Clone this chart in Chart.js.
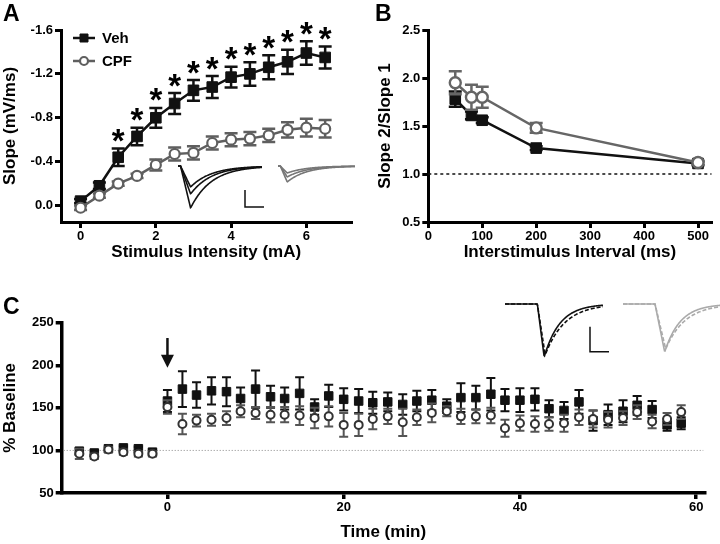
<!DOCTYPE html>
<html>
<head>
<meta charset="utf-8">
<script src="https://cdn.jsdelivr.net/npm/chart.js@4.4.0/dist/chart.umd.min.js"></script>
<style>
  html, body { margin: 0; padding: 0; background: #fff; }
  #wrap { position: relative; width: 720px; height: 544px; }
  canvas { position: absolute; }
  #chartA { left: 0; top: 0; }
  #chartB { left: 360px; top: 0; }
  #chartC { left: 0; top: 280px; }
</style>
</head>
<body>
<div id="wrap">
  <canvas id="chartA" width="360" height="280"></canvas>
  <canvas id="chartB" width="360" height="280"></canvas>
  <canvas id="chartC" width="720" height="264"></canvas>
</div>
<script>
// ---- Panel A: input/output ----
const intensity = [0, 0.5, 1, 1.5, 2, 2.5, 3, 3.5, 4, 4.5, 5, 5.5, 6, 6.5];
const slopeVeh = [-0.04, -0.18, -0.44, -0.63, -0.80, -0.93, -1.05, -1.08, -1.17, -1.20, -1.26, -1.31, -1.39, -1.35];
const slopeVehSem = [0.02, 0.03, 0.08, 0.08, 0.09, 0.095, 0.095, 0.10, 0.095, 0.107, 0.11, 0.11, 0.107, 0.10];
const slopeCpf = [0.02, -0.09, -0.20, -0.27, -0.37, -0.47, -0.48, -0.57, -0.60, -0.61, -0.64, -0.69, -0.71, -0.70];
const slopeCpfSem = [0.02, 0.02, 0.02, 0.02, 0.05, 0.06, 0.06, 0.06, 0.06, 0.06, 0.06, 0.07, 0.08, 0.08];
const sigMarks = ['', '', '*', '*', '*', '*', '*', '*', '*', '*', '*', '*', '*', '*'];
const ticksAx = [0, 2, 4, 6];
const ticksAy = [-1.6, -1.2, -0.8, -0.4, 0];

// ---- Panel B: paired pulse ----
const intervalMs = [50, 80, 100, 200, 500];
const ppfVeh = [1.78, 1.61, 1.56, 1.27, 1.11];
const ppfVehSem = [0.08, 0.04, 0.03, 0.02, 0.02];
const ppfCpf = [1.95, 1.80, 1.80, 1.48, 1.12];
const ppfCpfSem = [0.12, 0.13, 0.11, 0.05, 0.02];
const ticksBx = [0, 100, 200, 300, 400, 500];
const ticksBy = [0.5, 1.0, 1.5, 2.0, 2.5];

// ---- Panel C: LTP time course ----
const timeMin = [-10, -8.3, -6.7, -5, -3.3, -1.7,
  0, 1.7, 3.3, 5, 6.7, 8.3, 10, 11.7, 13.3, 15, 16.7, 18.3,
  20, 21.7, 23.3, 25, 26.7, 28.3, 30, 31.7, 33.3, 35, 36.7, 38.3,
  40, 41.7, 43.3, 45, 46.7, 48.3, 50, 51.7, 53.3, 55, 56.7, 58.3];
const ltpVeh = [99, 97, 102, 103, 102, 98,
  158, 172, 165, 170, 169, 161, 172, 163, 161, 167, 151, 164,
  160, 158, 156, 157, 154, 158, 159, 152, 162, 162, 166, 159,
  159, 160, 149, 147, 157, 135, 142, 146, 153, 148, 130, 132];
const ltpVehSem = [4, 3, 2, 2, 2, 3,
  13, 21, 15, 16, 17, 13, 22, 13, 13, 19, 9, 13,
  13, 14, 13, 11, 12, 12, 12, 8, 17, 14, 19, 13,
  14, 13, 10, 10, 14, 12, 12, 13, 11, 10, 7, 7];
const ltpCpf = [96, 93, 101, 98, 96, 96,
  151, 131, 135, 136, 138, 146, 144, 142, 142, 141, 138, 140,
  130, 130, 137, 140, 133, 139, 144, 146, 140, 140, 141, 126,
  132, 131, 131, 132, 139, 137, 136, 138, 145, 134, 137, 145];
const ltpCpfSem = [6, 3, 3, 3, 3, 3,
  8, 12, 7, 7, 8, 7, 7, 9, 9, 11, 12, 12,
  14, 13, 12, 9, 16, 9, 11, 6, 9, 8, 9, 10,
  9, 9, 8, 10, 9, 10, 9, 8, 8, 8, 7, 8];
const ticksCx = [0, 20, 40, 60];
const ticksCy = [50, 100, 150, 200, 250];

const FONT = "'Liberation Sans', Arial, Helvetica, sans-serif";
Chart.defaults.font.family = FONT;
Chart.defaults.font.weight = 'bold';
Chart.defaults.color = '#000';
Chart.defaults.animation = false;
Chart.defaults.events = [];
Chart.defaults.plugins.legend.display = false;
Chart.defaults.plugins.tooltip.enabled = false;
Chart.defaults.elements.line.tension = 0;

const pts = (xs, ys) => xs.map((x, i) => ({ x: x, y: ys[i] }));

function axis(o) {
  return {
    type: 'linear',
    min: o.min, max: o.max, reverse: !!o.reverse,
    afterBuildTicks: s => { s.ticks = o.ticks.map(v => ({ value: v })); },
    afterFit: s => { if (s.isHorizontal()) s.height = o.size; else s.width = o.size; },
    ticks: { callback: o.fmt, padding: o.tickPad, font: { size: 13, weight: 'bold' }, color: '#000', maxRotation: 0, autoSkip: false },
    grid: { drawOnChartArea: false, drawTicks: true, tickLength: 6, lineWidth: o.lw, color: '#000' },
    border: { display: true, width: o.lw, color: '#000' },
    title: { display: true, text: o.title, font: { size: 17, weight: 'bold' }, color: '#000', padding: o.titlePad }
  };
}

// error bars drawn just before each dataset so markers sit on top
const errorBars = {
  id: 'errorBars',
  beforeDatasetDraw(chart, args) {
    const ds = chart.data.datasets[args.index];
    if (!ds.sem) return;
    const ys = chart.scales.y, ctx = chart.ctx;
    ctx.save();
    ctx.strokeStyle = ds.errColor;
    ctx.lineWidth = ds.errWidth;
    args.meta.data.forEach((p, i) => {
      const v = ds.data[i].y, e = ds.sem[i];
      const a = ys.getPixelForValue(v + e), b = ys.getPixelForValue(v - e);
      ctx.beginPath();
      ctx.moveTo(p.x, a); ctx.lineTo(p.x, b);
      ctx.moveTo(p.x - ds.cap, a); ctx.lineTo(p.x + ds.cap, a);
      ctx.moveTo(p.x - ds.cap, b); ctx.lineTo(p.x + ds.cap, b);
      ctx.stroke();
    });
    ctx.restore();
  }
};

function panelLetter(letter, x, y) {
  return {
    id: 'letter' + letter,
    afterDraw(chart) {
      const ctx = chart.ctx;
      ctx.save();
      ctx.font = 'bold 23px ' + FONT;
      ctx.fillStyle = '#000';
      ctx.textBaseline = 'top';
      ctx.fillText(letter, x, y);
      ctx.restore();
    }
  };
}

// schematic fEPSP trace for the insets
function drawTrace(ctx, x0, x1, yBase, depth, onsetF, peakF, tauF, color, dashed) {
  const w = x1 - x0, on = x0 + onsetF * w, pk = x0 + peakF * w;
  ctx.save();
  ctx.strokeStyle = color;
  ctx.lineWidth = 1.6;
  if (dashed) ctx.setLineDash([4, 2]);
  ctx.beginPath();
  for (let x = x0; x <= x1; x += 0.5) {
    let y = yBase;
    if (x > on && x <= pk) y = yBase + depth * (x - on) / (pk - on);
    else if (x > pk) y = yBase + depth * Math.exp(-(x - pk) / (tauF * w));
    if (x === x0) ctx.moveTo(x, y); else ctx.lineTo(x, y);
  }
  ctx.stroke();
  ctx.restore();
}

function scaleBar(ctx, x, yTop, yBot, xEnd) {
  ctx.save();
  ctx.strokeStyle = '#111';
  ctx.lineWidth = 1.5;
  ctx.beginPath();
  ctx.moveTo(x, yTop); ctx.lineTo(x, yBot); ctx.lineTo(xEnd, yBot);
  ctx.stroke();
  ctx.restore();
}

// ---------- Chart A ----------
const decorA = {
  id: 'decorA',
  afterDatasetsDraw(chart) {
    const ctx = chart.ctx, ys = chart.scales.y;
    const veh = chart.data.datasets[0], meta = chart.getDatasetMeta(0);
    ctx.save();
    ctx.font = 'bold 33px ' + FONT;
    ctx.fillStyle = '#000';
    ctx.textAlign = 'center';
    ctx.textBaseline = 'alphabetic';
    meta.data.forEach((p, i) => {
      if (!sigMarks[i]) return;
      const top = Math.min(ys.getPixelForValue(veh.data[i].y - veh.sem[i]), ys.getPixelForValue(veh.data[i].y + veh.sem[i]));
      ctx.fillText(sigMarks[i], p.x, top - 15 + 18.6);
    });
    ctx.restore();

    // legend
    const ca = chart.chartArea;
    chart.data.datasets.forEach((ds, i) => {
      const y = ca.top + 8 + i * 23, x0 = 73, x1 = 95, xm = (x0 + x1) / 2;
      ctx.save();
      ctx.strokeStyle = ds.borderColor;
      ctx.lineWidth = ds.borderWidth;
      ctx.beginPath(); ctx.moveTo(x0, y); ctx.lineTo(x1, y); ctx.stroke();
      ctx.fillStyle = ds.pointBackgroundColor;
      ctx.strokeStyle = ds.pointBorderColor;
      ctx.lineWidth = ds.pointBorderWidth;
      ctx.beginPath();
      if (ds.pointStyle === 'rect') {
        ctx.rect(xm - 4, y - 4, 8, 8);
      } else {
        ctx.arc(xm, y, 4, 0, Math.PI * 2);
      }
      ctx.fill(); ctx.stroke();
      ctx.font = 'bold 15px ' + FONT;
      ctx.fillStyle = '#000';
      ctx.textBaseline = 'middle';
      ctx.fillText(ds.label, 102, y + 1);
      ctx.restore();
    });

    // inset traces
    [42, 28, 21].forEach(d => drawTrace(ctx, 178, 262, 166, d, 0.03, 0.15, 0.25, '#111', false));
    [16, 11, 7].forEach(d => drawTrace(ctx, 278, 355, 166, d, 0.03, 0.12, 0.25, '#777', false));
    scaleBar(ctx, 245, 190, 207, 264);
  }
};

new Chart(document.getElementById('chartA'), {
  type: 'line',
  data: {
    datasets: [
      { label: 'Veh', data: pts(intensity, slopeVeh), sem: slopeVehSem, order: 1,
        borderColor: '#111', borderWidth: 2.5, pointStyle: 'rect', pointRadius: 7.5,
        pointBackgroundColor: '#111', pointBorderColor: '#111', pointBorderWidth: 1,
        errColor: '#111', errWidth: 2.5, cap: 6.5 },
      { label: 'CPF', data: pts(intensity, slopeCpf), sem: slopeCpfSem, order: 0,
        borderColor: '#5f5f5f', borderWidth: 2.5, pointStyle: 'circle', pointRadius: 5,
        pointBackgroundColor: '#fff', pointBorderColor: '#5f5f5f', pointBorderWidth: 2.2,
        errColor: '#5f5f5f', errWidth: 2.5, cap: 6.5 }
    ]
  },
  options: {
    responsive: false,
    layout: { padding: { left: 0, right: 7, top: 30, bottom: 0 } },
    scales: {
      x: axis({ min: -0.52, max: 7.2, ticks: ticksAx, size: 58, lw: 3, tickPad: 1,
        fmt: v => String(v), title: 'Stimulus Intensity (mA)', titlePad: { top: 0, bottom: 17 } }),
      y: axis({ min: -1.6, max: 0.15, reverse: true, ticks: ticksAy, size: 61, lw: 3, tickPad: 2,
        fmt: v => v.toFixed(1), title: 'Slope (mV/ms)', titlePad: { top: 0, bottom: 0 } })
    }
  },
  plugins: [errorBars, decorA, panelLetter('A', 3, 3)]
});

// ---------- Chart B ----------
const decorB = {
  id: 'decorB',
  beforeDatasetsDraw(chart) {
    const ctx = chart.ctx, ca = chart.chartArea, y = chart.scales.y.getPixelForValue(1.0);
    ctx.save();
    ctx.strokeStyle = '#111';
    ctx.lineWidth = 1.5;
    ctx.setLineDash([3, 3]);
    ctx.beginPath(); ctx.moveTo(ca.left, y); ctx.lineTo(ca.right, y); ctx.stroke();
    ctx.restore();
  }
};

new Chart(document.getElementById('chartB'), {
  type: 'line',
  data: {
    datasets: [
      { label: 'Veh', data: pts(intervalMs, ppfVeh), sem: ppfVehSem, order: 1,
        borderColor: '#111', borderWidth: 2.5, pointStyle: 'rect', pointRadius: 7.5,
        pointBackgroundColor: '#111', pointBorderColor: '#111', pointBorderWidth: 1,
        errColor: '#111', errWidth: 2.5, cap: 6.5 },
      { label: 'CPF', data: pts(intervalMs, ppfCpf), sem: ppfCpfSem, order: 0,
        borderColor: '#666', borderWidth: 2.5, pointStyle: 'circle', pointRadius: 5.5,
        pointBackgroundColor: '#fff', pointBorderColor: '#666', pointBorderWidth: 2.4,
        errColor: '#666', errWidth: 2.5, cap: 6.5 }
    ]
  },
  options: {
    responsive: false,
    layout: { padding: { left: 15, right: 4, top: 30, bottom: 0 } },
    scales: {
      x: axis({ min: 0, max: 525, ticks: ticksBx, size: 58, lw: 3, tickPad: 1,
        fmt: v => String(v), title: 'Interstimulus Interval (ms)', titlePad: { top: 0, bottom: 17 } }),
      y: axis({ min: 0.5, max: 2.5, ticks: ticksBy, size: 53.3, lw: 3, tickPad: 2,
        fmt: v => v.toFixed(1), title: 'Slope 2/Slope 1', titlePad: { top: 0, bottom: 0 } })
    }
  },
  plugins: [errorBars, decorB, panelLetter('B', 15, 3)]
});

// ---------- Chart C ----------
const decorC = {
  id: 'decorC',
  beforeDatasetsDraw(chart) {
    const ctx = chart.ctx, ca = chart.chartArea, xs = chart.scales.x, ys = chart.scales.y;
    const y = ys.getPixelForValue(100);
    ctx.save();
    ctx.strokeStyle = '#888';
    ctx.lineWidth = 1;
    ctx.setLineDash([1, 2]);
    ctx.beginPath(); ctx.moveTo(ca.left + 2, y); ctx.lineTo(xs.getPixelForValue(60.8), y); ctx.stroke();
    ctx.restore();
  },
  afterDatasetsDraw(chart) {
    const ctx = chart.ctx, xs = chart.scales.x, ys = chart.scales.y;
    // stimulus arrow at t = 0
    const x = xs.getPixelForValue(0), yTop = ys.getPixelForValue(232), yTip = ys.getPixelForValue(197);
    ctx.save();
    ctx.strokeStyle = '#111';
    ctx.fillStyle = '#111';
    ctx.lineWidth = 2.5;
    ctx.beginPath(); ctx.moveTo(x, yTop); ctx.lineTo(x, yTip - 10); ctx.stroke();
    ctx.beginPath(); ctx.moveTo(x - 6.5, yTip - 13); ctx.lineTo(x + 6.5, yTip - 13); ctx.lineTo(x, yTip); ctx.closePath(); ctx.fill();
    ctx.restore();
    // inset traces
    drawTrace(ctx, 505, 603, 24, 53, 0.33, 0.40, 0.16, '#111', false);
    drawTrace(ctx, 505, 603, 24, 51, 0.33, 0.41, 0.20, '#111', true);
    scaleBar(ctx, 590, 46.7, 71.7, 609);
    drawTrace(ctx, 623, 720, 24, 48, 0.33, 0.43, 0.16, '#aaa', false);
    drawTrace(ctx, 623, 720, 24, 45, 0.33, 0.44, 0.20, '#aaa', true);
  }
};

new Chart(document.getElementById('chartC'), {
  type: 'line',
  data: {
    datasets: [
      { label: 'Veh', data: pts(timeMin, ltpVeh), sem: ltpVehSem, order: 1, showLine: false,
        pointStyle: 'rect', pointRadius: 6, pointBackgroundColor: '#111', pointBorderColor: '#111',
        pointBorderWidth: 1, errColor: '#111', errWidth: 2, cap: 4.5 },
      { label: 'CPF', data: pts(timeMin, ltpCpf), sem: ltpCpfSem, order: 0, showLine: false,
        pointStyle: 'circle', pointRadius: 4, pointBackgroundColor: '#fff', pointBorderColor: '#333',
        pointBorderWidth: 2, errColor: '#555', errWidth: 2, cap: 4.5 }
    ]
  },
  options: {
    responsive: false,
    layout: { padding: { left: 0, right: 15, top: 42.7, bottom: 0 } },
    scales: {
      x: axis({ min: -12, max: 61, ticks: ticksCx, size: 51, lw: 3.5, tickPad: 1,
        fmt: v => String(v), title: 'Time (min)', titlePad: { top: 0, bottom: 1 } }),
      y: axis({ min: 50, max: 250, ticks: ticksCy, size: 61.7, lw: 3.5, tickPad: 2,
        fmt: v => String(v), title: '% Baseline', titlePad: { top: 0, bottom: 0 } })
    }
  },
  plugins: [errorBars, decorC, panelLetter('C', 3, 16)]
});
</script>
</body>
</html>
